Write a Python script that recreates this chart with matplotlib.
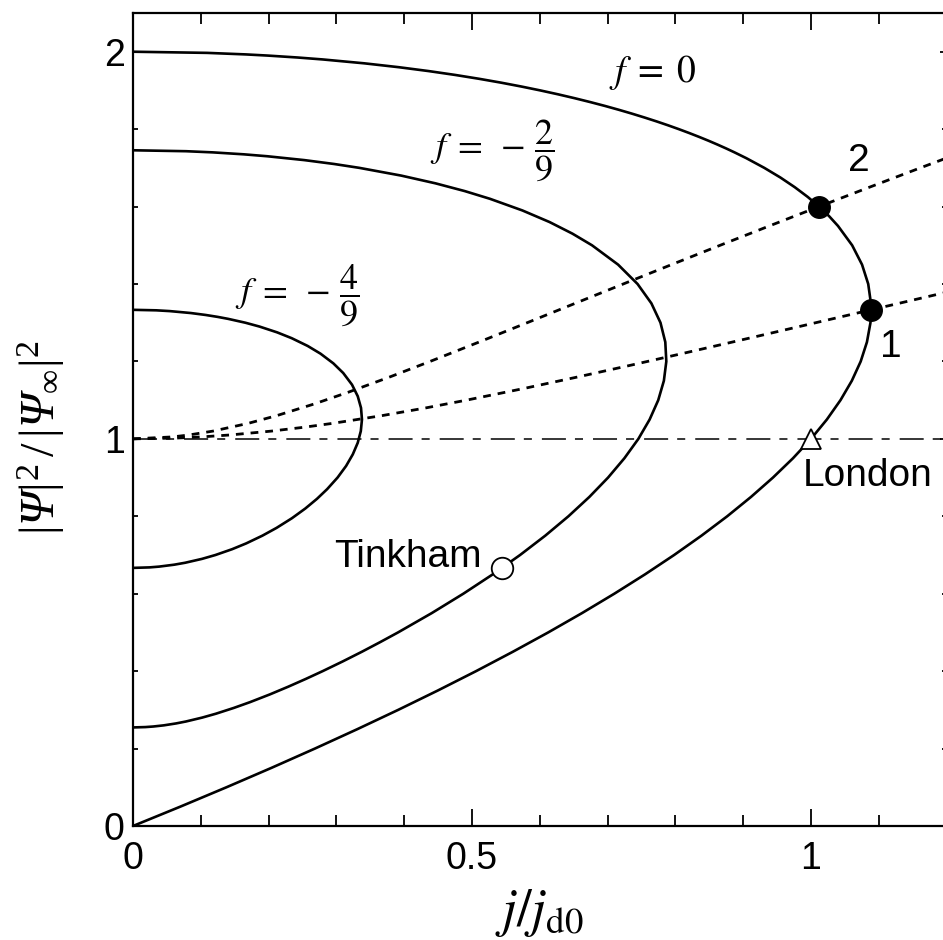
import matplotlib
matplotlib.use("Agg")
import matplotlib.pyplot as plt
from matplotlib.ticker import MultipleLocator, FixedLocator

plt.rcParams['font.family'] = ['Liberation Sans', 'DejaVu Sans']
plt.rcParams['mathtext.fontset'] = 'stix'
plt.rcParams['mathtext.rm'] = 'Liberation Serif:italic'
plt.rcParams['mathtext.sf'] = 'Liberation Serif'
plt.rcParams['mathtext.it'] = 'Liberation Serif:italic'
plt.rcParams['lines.scale_dashes'] = False

# ---- data: (j/j_d0, |Psi|^2/|Psi_inf|^2) ----
# f = 0
f0_y = [0, .05, .1, .15, .2, .25, .3, .35, .4, .45, .5, .55, .6, .65, .7, .75, .8, .85,
        .9, .95, 1.0, 1.05, 1.1, 1.15, 1.2, 1.25, 1.3, 1.35, 1.4, 1.45, 1.5, 1.55,
        1.575, 1.6, 1.625, 1.65, 1.675, 1.7, 1.725, 1.74, 1.75, 1.76, 1.77, 1.78,
        1.79, 1.8, 1.81, 1.82, 1.83, 1.84, 1.85, 1.86, 1.87, 1.88, 1.89, 1.9, 1.91,
        1.92, 1.93, 1.94, 1.95, 1.96, 1.97, 1.98, 1.985, 1.99, 1.993, 1.997, 2.0]
f0_x = [0, .0698, .1378, .2040, .2683, .3307, .3912, .4496, .5060, .5602, .6124,
        .6623, .7099, .7552, .7981, .8385, .8764, .9115, .9439, .9735, 1.0, 1.0234,
        1.0435, 1.0602, 1.0733, 1.0825, 1.0877, 1.0884, 1.0844, 1.0753, 1.0607,
        1.0398, 1.0268, 1.0119, .9951, .9761, .9549, .9311, .9046, .8872, .875,
        .8622, .8489, .8349, .8203, .8050, .7890, .7722, .7545, .736, .7165, .6960,
        .6742, .6512, .6268, .6008, .573, .5431, .5106, .4752, .4360, .392, .3412,
        .2800, .2431, .199, .1667, .1094, 0]

# f = -2/9
f29_y = [.2546, .2555, .257, .26, .265, .27, .28, .29, .305, .32, .34, .36, .38, .40,
         .425, .45, .475, .50, .55, .60, .65, .70, .75, .80, .85, .90, .95, 1.00,
         1.05, 1.10, 1.15, 1.20, 1.25, 1.30, 1.35, 1.40, 1.45, 1.50, 1.53, 1.56,
         1.59, 1.62, 1.64, 1.66, 1.68, 1.70, 1.71, 1.72, 1.73, 1.735, 1.74, 1.743,
         1.7454]
f29_x = [0, .0181, .0300, .0455, .0637, .0782, .1020, .1222, .1487, .1727, .2020,
         .2292, .2550, .2797, .3092, .3375, .3646, .3909, .4407, .4872, .5306, .5709,
         .6081, .6422, .6731, .7007, .7248, .7454, .7620, .7747, .7830, .7866, .7851,
         .7780, .7646, .7442, .7155, .6770, .6482, .6144, .5743, .5266, .4893, .4462,
         .3956, .3338, .2966, .2528, .1980, .1631, .1177, .0782, 0]

# f = -4/9
f49_y = [.6667, .668, .67, .675, .68, .69, .70, .715, .73, .75, .77, .795, .82, .845,
         .87, .90, .93, .96, .99, 1.02, 1.05, 1.08, 1.11, 1.14, 1.17, 1.195, 1.22,
         1.24, 1.26, 1.275, 1.29, 1.30, 1.31, 1.315, 1.32, 1.325, 1.33, 1.332, 1.3333]
f49_x = [0, .0244, .0385, .0609, .0770, .1018, .1216, .1462, .1670, .1909, .2117,
         .2344, .2541, .2713, .2863, .3017, .3143, .3242, .3315, .3360, .3377, .3363,
         .3315, .3230, .3101, .2955, .2766, .2576, .2341, .2127, .1867, .1657, .1402,
         .1250, .1072, .0853, .0542, .0344, 0]

# dotted path 1
p1_y = [1.0, 1.002, 1.005, 1.01, 1.02, 1.03, 1.04, 1.06, 1.08, 1.10, 1.13, 1.16, 1.19,
        1.22, 1.25, 1.28, 1.31, 1.34, 1.37, 1.40]
p1_x = [0, .0634, .1005, .1428, .204, .2523, .2942, .3672, .432, .4919, .5762, .6562,
        .7336, .8093, .8839, .9579, 1.0315, 1.1050, 1.1785, 1.2522]

# dotted path 2
p2_y = [1.0, 1.005, 1.01, 1.02, 1.04, 1.06, 1.09, 1.12, 1.16, 1.20, 1.25, 1.30, 1.35,
        1.40, 1.45, 1.50, 1.55, 1.60, 1.65, 1.70, 1.75]
p2_x = [0, .0580, .0825, .1178, .1698, .212, .2670, .3168, .3789, .4382, .5103, .5814,
        .6521, .7230, .7942, .8660, .9386, 1.0119, 1.0862, 1.1613, 1.2374]

# special points
pt_filled_x = [1.0119, 1.0887]
pt_filled_y = [1.6, 1.3333]
tinkham_xy = (0.5443, 0.6667)
london_xy = (1.0, 1.0)

# ---- figure ----
fig = plt.figure(figsize=(9.43, 9.40), dpi=100)
ax = fig.add_axes([133 / 943, 114 / 940, 813.6 / 943, 813 / 940])
ax.set_xlim(0, 1.2)
ax.set_ylim(0, 2.1)

for xs, ys in [(f0_x, f0_y), (f29_x, f29_y), (f49_x, f49_y)]:
    ax.plot(xs, ys, color='black', lw=1.9, solid_joinstyle='round', zorder=3)

for xs, ys in [(p1_x, p1_y), (p2_x, p2_y)]:
    ax.plot(xs, ys, color='black', lw=2.0, linestyle=(0, (5.6, 5.0)),
            dash_capstyle='butt', zorder=2)

ax.axhline(1.0, color='black', lw=1.1, linestyle=(0, (17.3, 6.5, 5.8, 7.2)),
           dash_capstyle='butt', zorder=1)

ax.plot(pt_filled_x, pt_filled_y, 'o', ms=15.5, mfc='black', mec='black', zorder=5)
ax.plot([tinkham_xy[0]], [tinkham_xy[1]], 'o', ms=15.5, mfc='white', mec='black',
        mew=1.3, zorder=5)
ax.plot([london_xy[0]], [london_xy[1]], '^', ms=15, mfc='white', mec='black',
        mew=1.3, zorder=5)

# annotations
ax.text(0.515, 0.695, 'Tinkham', fontsize=28, ha='right', va='center')
ax.text(1.084, 0.905, 'London', fontsize=28, ha='center', va='center')
ax.text(1.071, 1.718, '2', fontsize=28, ha='center', va='center')
ax.text(1.117, 1.238, '1', fontsize=28, ha='center', va='center')
ax.text(0.767, 1.946, r'$f\;=\;0$', fontsize=27, ha='center', va='center',
        math_fontfamily='stix')
ax.text(0.530, 1.745, r'$f\;=\;-\,\dfrac{2}{9}$', fontsize=26, ha='center',
        va='center', math_fontfamily='stix')
ax.text(0.242, 1.372, r'$f\;=\;-\,\dfrac{4}{9}$', fontsize=26, ha='center',
        va='center', math_fontfamily='stix')

# ticks
ax.xaxis.set_major_locator(FixedLocator([0, 0.5, 1.0]))
ax.xaxis.set_minor_locator(MultipleLocator(0.1))
ax.yaxis.set_major_locator(FixedLocator([0, 1, 2]))
ax.yaxis.set_minor_locator(MultipleLocator(0.2))
ax.set_xticklabels(['0', '0.5', '1'])
ax.set_yticklabels(['0', '1', '2'])
ax.tick_params(axis='x', which='major', direction='in', length=12, width=1.3,
               top=True, labelsize=27, pad=11)
ax.tick_params(axis='x', which='minor', direction='in', length=8, width=1.3, top=True)
ax.tick_params(axis='y', which='major', direction='in', length=5, width=1.3,
               right=True, labelsize=27, pad=6)
ax.tick_params(axis='y', which='minor', direction='in', length=3.6, width=1.3, right=True)
for s in ax.spines.values():
    s.set_linewidth(1.6)

fig.text(539 / 943, 1 - 913 / 940, r'$j/j_{\mathrm{d0}}$', fontsize=38,
         ha='center', va='center', math_fontfamily='stix')
fig.text(41 / 943, 1 - 438 / 940,
         r'$\mathsf{|}\Psi\mathsf{|}^{\mathsf{2}}\mathsf{\,/\,|}\Psi_{\mathsf{\infty}}'
         r'\mathsf{|}^{\mathsf{2}}$',
         fontsize=35, ha='center', va='center', rotation=90, math_fontfamily='custom')

fig.savefig('out.png', dpi=100)
